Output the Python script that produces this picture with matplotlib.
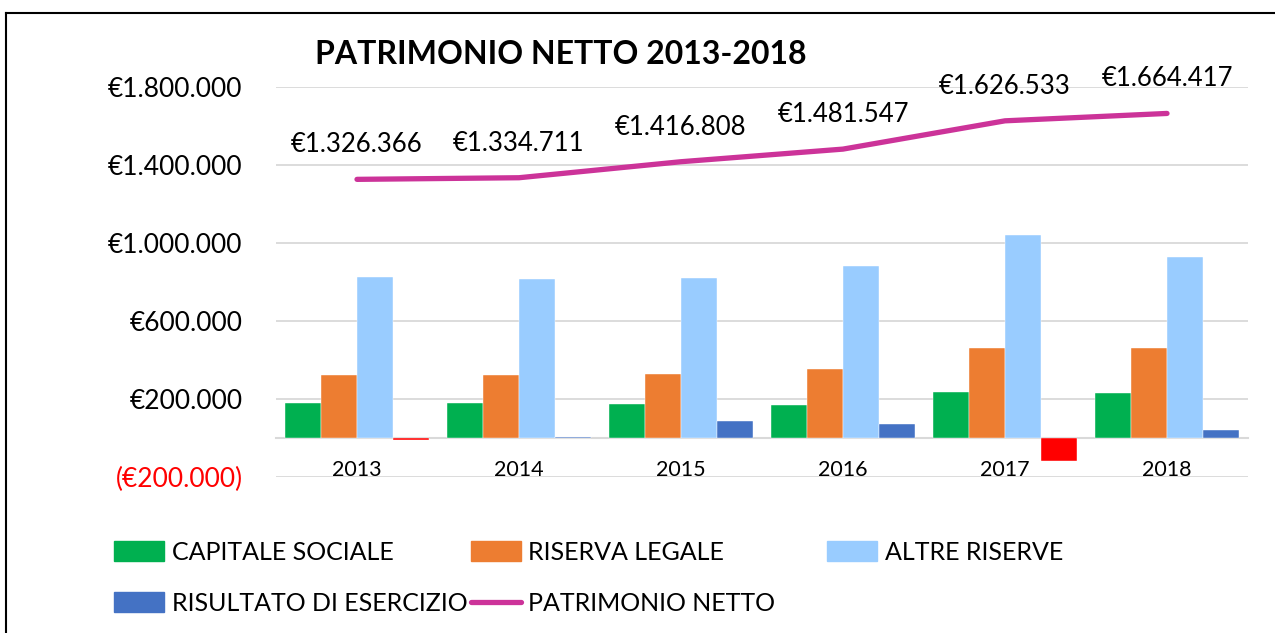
import matplotlib
matplotlib.use('Agg')
import matplotlib.pyplot as plt
from matplotlib.patches import Patch
from matplotlib.lines import Line2D
from matplotlib.ticker import FuncFormatter
import numpy as np

plt.rcParams['font.family'] = ['Lato', 'DejaVu Sans']

# data
years = ['2013', '2014', '2015', '2016', '2017', '2018']
capitale_sociale = [181000, 181000, 176000, 168000, 236000, 231000]
riserva_legale = [325000, 325000, 328000, 355000, 461000, 461000]
altre_riserve = [827000, 815000, 820000, 880000, 1041000, 927000]
risultato_esercizio = [-8000, 5000, 86000, 72000, -116000, 41000]
patrimonio_netto = [1326366, 1334711, 1416808, 1481547, 1626533, 1664417]

series_names = ['CAPITALE SOCIALE', 'RISERVA LEGALE', 'ALTRE RISERVE', 'RISULTATO DI ESERCIZIO']
colors = ['#00B050', '#ED7D31', '#99CCFF', '#4472C4']
neg_color = '#FF0000'
line_color = '#CC3399'
grid_color = '#D9D9D9'


def euro(v, pos=None):
    s = '{:,.0f}'.format(abs(v)).replace(',', '.')
    if v < 0:
        return '(€' + s + ')'
    return '€' + s


fig = plt.figure(figsize=(12.75, 6.33), dpi=100)
ax = fig.add_axes([276/1275, 1 - 477/633, 972/1275, 390/633])

# outer chart border (top and left visible)
fig.add_artist(Line2D([6/1275, 6/1275], [0, 1 - 13/633], color='black', lw=1.5, transform=fig.transFigure))
fig.add_artist(Line2D([6/1275, 1], [1 - 13/633, 1 - 13/633], color='black', lw=1.5, transform=fig.transFigure))

x = np.arange(len(years))
bw = 0.222
all_series = [capitale_sociale, riserva_legale, altre_riserve, risultato_esercizio]
for i, vals in enumerate(all_series):
    offs = (i - 1.5) * bw
    cols = [neg_color if v < 0 else colors[i] for v in vals]
    ax.bar(x + offs, vals, width=bw, color=cols, edgecolor='white', linewidth=0.3, zorder=3)

ax.plot(x, patrimonio_netto, color=line_color, lw=3.8, solid_capstyle='round', zorder=4)
for xi, v in zip(x, patrimonio_netto):
    ax.annotate(euro(v), (xi, v), xytext=(0, 25), textcoords='offset points',
                ha='center', va='center', fontsize=18.5, color='black', annotation_clip=False)

ax.set_xlim(-0.5, len(years) - 0.5)
ax.set_ylim(-200000, 1800000)
ax.set_yticks(np.arange(-200000, 1800001, 400000))
ax.yaxis.set_major_formatter(FuncFormatter(euro))
ax.grid(axis='y', color=grid_color, lw=1.3, zorder=0)
ax.set_axisbelow(True)

for sp in ['top', 'right', 'left']:
    ax.spines[sp].set_visible(False)
ax.spines['bottom'].set_position(('data', 0))
ax.spines['bottom'].set_color(grid_color)
ax.spines['bottom'].set_linewidth(1.5)
ax.spines['bottom'].set_zorder(2)

ax.set_xticks(x)
ax.set_xticklabels(years, fontsize=15.5)
ax.tick_params(axis='x', length=0, pad=16)
ax.tick_params(axis='y', length=0, pad=24, labelsize=19)
for lbl, t in zip(ax.get_yticklabels(), ax.get_yticks()):
    if t < 0:
        lbl.set_color(neg_color)

fig.text(315/1275, 1 - 54/633, 'PATRIMONIO NETTO 2013-2018', fontsize=23, fontweight='bold',
         ha='left', va='center')

# legend, laid out in three columns like the reference
handles = [Patch(color=c) for c in colors] + [Line2D([], [], color=line_color, lw=3.8, solid_capstyle='round')]
labels = series_names + ['PATRIMONIO NETTO']
col_groups = [([0, 3], 114), ([1, 4], 471), ([2], 827)]
for idx, xpx in col_groups:
    leg = fig.legend([handles[k] for k in idx], [labels[k] for k in idx], loc='upper left',
                     bbox_to_anchor=(xpx/1275, 1 - 541/633), frameon=False, fontsize=18,
                     handlelength=2.0, handleheight=0.85, handletextpad=0.3, labelspacing=1.12,
                     borderaxespad=0, borderpad=0)

fig.savefig('out.png', dpi=100)
